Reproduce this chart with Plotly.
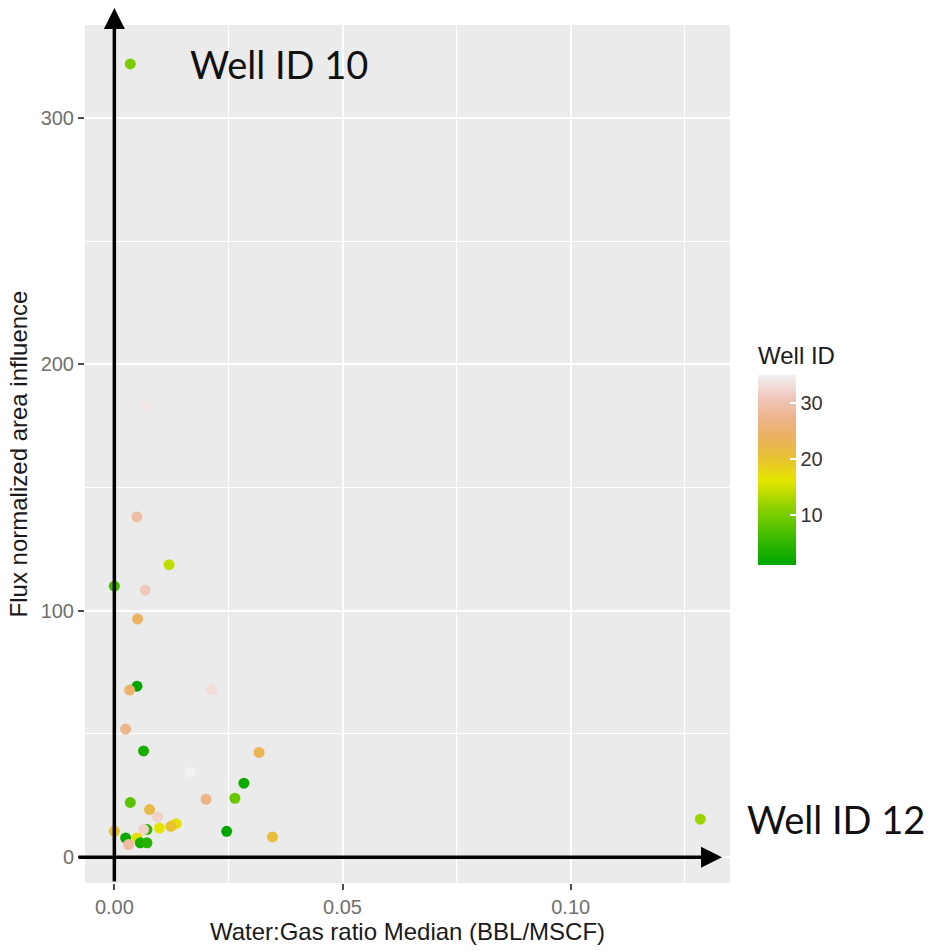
import plotly.graph_objects as go

# Data (Water:Gas ratio median, flux-normalized area influence, Well ID)
wgr = [0.00349, 0.1284, 0.00677, 0.00496, 0.0120, 0.0, 0.00677, 0.00509, 0.00496, 0.00334,
       0.02133, 0.00247, 0.0064, 0.0166, 0.03172, 0.02838, 0.02642, 0.02009, 0.00349, 0.00771,
       0.00945, 0.01354, 0.01238, 0.00989, 0.00714, 0.0064, 0.0, 0.02461, 0.03465, 0.00247,
       0.00496, 0.00312, 0.00568, 0.00714]
flux = [322.0, 15.4, 183.0, 138.1, 118.7, 110.0, 108.4, 96.7, 69.4, 67.8,
        68.0, 52.0, 43.1, 34.5, 42.5, 30.0, 23.9, 23.5, 22.2, 19.3,
        16.3, 13.6, 12.5, 11.8, 11.2, 11.2, 10.5, 10.5, 8.2, 7.8,
        7.8, 5.1, 5.8, 5.8]
well_id = [10, 12, 34, 29, 14, 6, 31, 24, 1, 25,
           33, 27, 3, 35, 23, 2, 9, 27, 8, 22,
           32, 17, 20, 16, 5, 32, 20, 1, 21, 2,
           17, 29, 3, 4]

x_ticks = [0.0, 0.05, 0.10]
x_ticklabels = ["0.00", "0.05", "0.10"]
y_ticks = [0, 100, 200, 300]
cbar_ticks = [10, 20, 30]

# R terrain.colors(10)
terrain = ["#00A600", "#2DB600", "#63C600", "#A0D600", "#E6E600",
           "#E8C32E", "#EBB25E", "#EDB48E", "#F0C9C0", "#F2F2F2"]
colorscale = [[i / (len(terrain) - 1), c] for i, c in enumerate(terrain)]

FONT = "Liberation Sans, Arial, sans-serif"

fig = go.Figure()
fig.add_trace(go.Scatter(
    x=wgr, y=flux, mode="markers",
    marker=dict(
        size=11, color=well_id, colorscale=colorscale, cmin=1, cmax=35,
        line=dict(width=0),
        colorbar=dict(
            title=dict(text="Well ID", side="top", font=dict(size=24, color="#1a1a1a", family=FONT)),
            thickness=38, lenmode="pixels", len=222,
            x=1.0434, xanchor="left", xpad=0,
            y=0.5, yanchor="middle", ypad=0,
            tickvals=cbar_ticks, ticks="inside", ticklen=6, tickcolor="white", tickwidth=1.5,
            tickprefix=" ",
            tickfont=dict(size=20, color="#333333", family=FONT),
            outlinewidth=0,
        ),
    ),
    showlegend=False,
    cliponaxis=False,
))

fig.update_layout(
    width=932, height=951,
    margin=dict(l=85, r=202, t=25, b=64),
    paper_bgcolor="white", plot_bgcolor="#EBEBEB",
    font=dict(family=FONT, color="#1a1a1a"),
    xaxis=dict(
        range=[-0.00643, 0.1349], tickvals=x_ticks, ticktext=x_ticklabels,
        showgrid=True, gridcolor="white", gridwidth=1.6,
        minor=dict(dtick=0.025, tick0=0, showgrid=True, gridcolor="white", gridwidth=0.8, ticks=""),
        zeroline=False, showline=False,
        ticks="outside", ticklen=6, tickwidth=1.5, tickcolor="#4D4D4D",
        tickfont=dict(size=20, color="#707070"),
        title=dict(text="Water:Gas ratio Median (BBL/MSCF)", font=dict(size=24, color="#1a1a1a"), standoff=4),
    ),
    yaxis=dict(
        range=[-10.5, 337.8], tickvals=y_ticks,
        showgrid=True, gridcolor="white", gridwidth=1.6,
        minor=dict(dtick=50, tick0=0, showgrid=True, gridcolor="white", gridwidth=0.8, ticks=""),
        zeroline=False, showline=False,
        ticks="outside", ticklen=6, tickwidth=1.5, tickcolor="#4D4D4D",
        tickfont=dict(size=20, color="#707070"),
        title=dict(text="Flux normalized area influence", font=dict(size=24, color="#1a1a1a"), standoff=6),
    ),
)

# Overlay axis arrows
fig.add_annotation(xref="x", x=0, yref="paper", y=1.0197, axref="pixel", ayref="pixel",
                   ax=0, ay=875, text="", showarrow=True, arrowhead=2, arrowsize=1.2,
                   arrowwidth=3.5, arrowcolor="black", standoff=0, startstandoff=0)
fig.add_annotation(xref="paper", x=0.9876, yref="y", y=0, axref="pixel", ayref="pixel",
                   ax=-645, ay=0, text="", showarrow=True, arrowhead=2, arrowsize=1.2,
                   arrowwidth=3.5, arrowcolor="black", standoff=0, startstandoff=0)

# Well labels
labels = [("Well ID 10", 10, 58), ("Well ID 12", 12, 45)]
for txt, wid, shift in labels:
    i = well_id.index(wid)
    fig.add_annotation(xref="x", yref="y", x=wgr[i], y=flux[i], text=txt, showarrow=False,
                       xanchor="left", yanchor="middle", xshift=shift,
                       font=dict(family="Lato, Carlito, sans-serif", size=38, color="#111111"))

fig.write_html("out.html")
